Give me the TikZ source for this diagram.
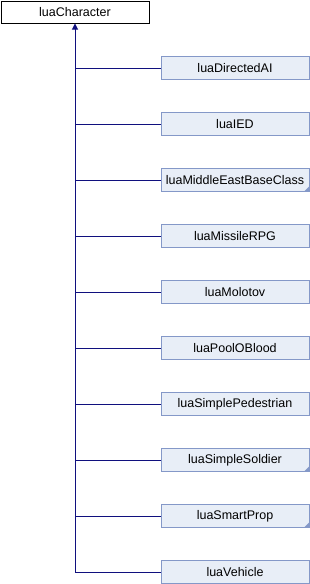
\documentclass[tikz,border=0pt]{standalone}
\usepackage{fontspec}
\setmainfont{Liberation Sans}
\usetikzlibrary{arrows.meta}
\definecolor{boxfill}{HTML}{E8EEF7}
\definecolor{boxdraw}{HTML}{8498C8}
\definecolor{edgecol}{HTML}{10107E}
\tikzset{
  base/.style={draw=black, line width=1pt, fill=white, minimum width=148pt, minimum height=22pt, inner sep=0pt, font=\fontsize{12.5}{14}\selectfont},
  child/.style={draw=boxdraw, line width=1pt, fill=boxfill, minimum width=148pt, minimum height=23pt, inner sep=0pt, font=\fontsize{12.5}{14}\selectfont},
  edge/.style={draw=edgecol, line width=1pt},
  corner/.style={fill=boxdraw}
}
\begin{document}
\begin{tikzpicture}[x=1pt,y=-1pt]
\useasboundingbox (0,0) rectangle (310,584);
\node[base] (top) at (75,12) {luaCharacter};
\foreach \nm/\lab [count=\i from 0] in {a/luaDirectedAI,b/luaIED,c/luaMiddleEastBaseClass,d/luaMissileRPG,e/luaMolotov,f/luaPoolOBlood,g/luaSimplePedestrian,h/luaSimpleSoldier,k/luaSmartProp,m/luaVehicle}{
  \node[child] (\nm) at (235,{68+56*\i}) {\lab};
  \draw[edge] (\nm.west) -- (\nm.west -| top.south);
}
\foreach \nm in {c,h,k}{
  \fill[corner] ([shift={(-0.5,-0.5)}]\nm.south east) -- ++(-5,0) -- ++(5,-5) -- cycle;
}
\coordinate (trunkend) at (m.west -| top.south);
\draw[edge, -{Triangle[width=6pt,length=6pt]}] (trunkend) -- (top.south);
\end{tikzpicture}
\end{document}
